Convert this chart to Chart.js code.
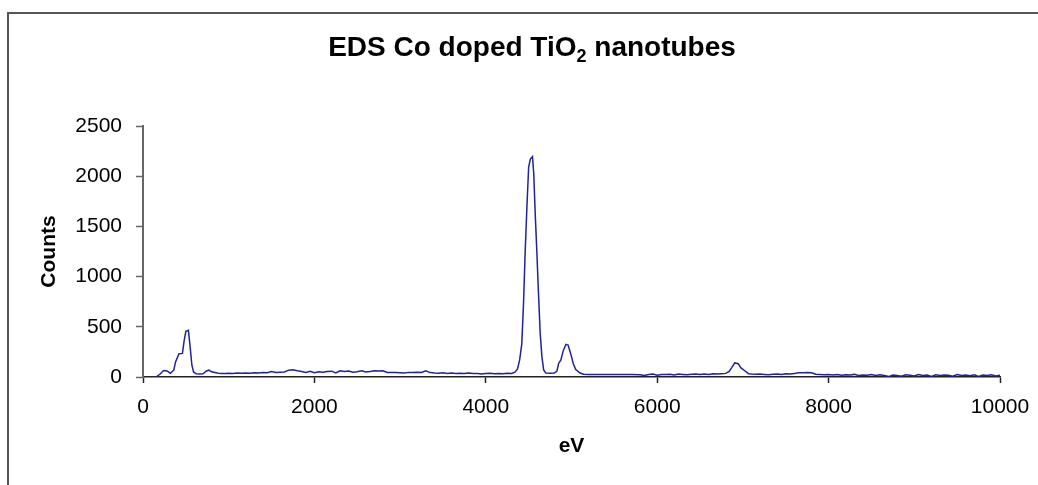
<!DOCTYPE html>
<html>
<head>
<meta charset="utf-8">
<script src="https://cdn.jsdelivr.net/npm/chart.js@4.4.1/dist/chart.umd.min.js"></script>
<style>
  html, body { margin: 0; padding: 0; background: #fff; overflow: hidden; }
  #wrap { position: relative; width: 1038px; height: 485px; overflow: hidden; }
  #frame {
    position: absolute; left: 7px; top: 12px; width: 1100px; height: 600px;
    border: 2px solid #555; pointer-events: none;
  }
  #title {
    position: absolute; left: 0; top: 33px; width: 1064px; text-align: center;
    font: bold 28px "Liberation Sans", Arial, sans-serif; line-height: 28px; color: #000;
  }
  #title sub { font-size: 18px; vertical-align: -6px; line-height: 0; }
  canvas { position: absolute; left: 0; top: 0; }
</style>
</head>
<body>
<div id="wrap">
  <canvas id="edsChart" width="1042" height="485"></canvas>
  <div id="frame"></div>
  <div id="title">EDS Co doped TiO<sub>2</sub> nanotubes</div>
</div>
<script>
// spectrum: energy (eV) and counts
const energy = [
  160, 200, 240, 280, 320, 360, 380, 420, 460, 480, 500, 530, 550, 570, 590, 620, 660, 700, 740, 770,
  800, 840, 880, 920, 960, 1000, 1050, 1100, 1150, 1200, 1250, 1300, 1350, 1400, 1450, 1500, 1550, 1600, 1650, 1700,
  1750, 1800, 1850, 1900, 1950, 2000, 2050, 2100, 2150, 2200, 2250, 2300, 2350, 2400, 2450, 2500, 2550, 2600, 2650, 2700,
  2750, 2800, 2850, 2900, 2950, 3000, 3050, 3100, 3150, 3200, 3250, 3300, 3350, 3400, 3450, 3500, 3550, 3600, 3650, 3700,
  3750, 3800, 3850, 3900, 3950, 4000, 4050, 4100, 4150, 4200, 4250, 4300, 4340, 4370, 4395, 4420, 4440, 4460, 4480, 4500,
  4520, 4545, 4560, 4575, 4595, 4615, 4635, 4655, 4675, 4700, 4750, 4800, 4830, 4850, 4875, 4905, 4935, 4960, 4990, 5020,
  5050, 5100, 5140, 5200, 5300, 5400, 5500, 5600, 5700, 5800, 5850, 5900, 5950, 6000, 6050, 6100, 6150, 6200, 6250, 6300,
  6350, 6400, 6450, 6500, 6550, 6600, 6650, 6700, 6750, 6800, 6840, 6870, 6905, 6945, 6975, 7025, 7065, 7100, 7150, 7200,
  7250, 7300, 7350, 7400, 7450, 7500, 7550, 7600, 7650, 7700, 7750, 7800, 7850, 7900, 7950, 8000, 8050, 8100, 8150, 8200,
  8250, 8300, 8350, 8400, 8450, 8500, 8550, 8600, 8650, 8700, 8750, 8800, 8850, 8900, 8950, 9000, 9050, 9100, 9150, 9200,
  9250, 9300, 9350, 9400, 9450, 9500, 9550, 9600, 9650, 9700, 9750, 9800, 9850, 9900, 9950, 10000
];
const counts = [
  5, 30, 65, 60, 38, 70, 150, 232, 235, 360, 455, 465, 300, 120, 50, 32, 30, 32, 60, 68,
  52, 45, 38, 36, 35, 38, 36, 40, 37, 40, 38, 42, 40, 45, 42, 55, 45, 48, 50, 68,
  72, 62, 55, 45, 58, 42, 52, 48, 55, 58, 40, 62, 55, 60, 48, 52, 62, 50, 55, 62,
  60, 62, 45, 46, 44, 42, 40, 46, 44, 48, 45, 62, 44, 40, 38, 42, 36, 40, 34, 38,
  34, 40, 35, 36, 30, 35, 38, 33, 36, 32, 38, 36, 48, 80, 170, 330, 730, 1260, 1700, 2090,
  2170, 2195, 2020, 1660, 1260, 830, 430, 200, 70, 40, 38, 40, 60, 135, 168, 265, 325, 318, 235, 135,
  75, 40, 28, 25, 26, 24, 25, 24, 25, 22, 14, 24, 30, 18, 26, 24, 28, 20, 30, 26,
  22, 28, 30, 24, 30, 26, 32, 30, 33, 36, 55, 93, 140, 133, 93, 60, 33, 30, 28, 30,
  26, 22, 28, 30, 24, 32, 30, 36, 43, 42, 44, 42, 28, 25, 22, 25, 20, 24, 18, 22,
  20, 26, 14, 20, 18, 24, 16, 22, 14, 4, 20, 16, 8, 22, 18, 10, 24, 16, 20, 6,
  22, 14, 20, 18, 8, 24, 16, 20, 12, 22, 6, 20, 14, 22, 10, 18
];

const xTicks = [0, 2000, 4000, 6000, 8000, 10000];
const yTicks = [0, 500, 1000, 1500, 2000, 2500];

const points = energy.map((e, i) => ({ x: e, y: counts[i] }));

const tickFont = { family: "'Liberation Sans', Arial, sans-serif", size: 21 };
const titleFont = { family: "'Liberation Sans', Arial, sans-serif", size: 21, weight: "bold" };

const ctx = document.getElementById("edsChart").getContext("2d");
new Chart(ctx, {
  type: "line",
  data: {
    datasets: [{
      label: "EDS",
      data: points,
      borderColor: "#22229a",
      borderWidth: 1.5,
      pointRadius: 0,
      fill: false,
      tension: 0,
    }],
  },
  options: {
    responsive: false,
    animation: false,
    layout: { padding: { top: 126, right: 42, left: 0, bottom: 0 } },
    plugins: {
      legend: { display: false },
      tooltip: { enabled: false },
    },
    scales: {
      x: {
        type: "linear",
        min: 0,
        max: 10000,
        afterBuildTicks: (scale) => { scale.ticks = xTicks.map(v => ({ value: v })); },
        afterFit: (scale) => { scale.height = 108; },
        ticks: { color: "#000", font: tickFont, padding: 12, maxRotation: 0, callback: (v) => String(v) },
        grid: { drawOnChartArea: false, drawTicks: true, tickLength: 6, color: "#222", tickWidth: 1.5 },
        border: { display: true, color: "#222", width: 1.5 },
        title: { display: true, text: "eV", color: "#000", font: titleFont, padding: { top: 0, bottom: 26 } },
      },
      y: {
        type: "linear",
        min: 0,
        max: 2500,
        afterBuildTicks: (scale) => { scale.ticks = yTicks.map(v => ({ value: v })); },
        afterFit: (scale) => { scale.width = 143; },
        ticks: { color: "#000", font: tickFont, padding: 14, callback: (v) => String(v) },
        grid: { drawOnChartArea: false, drawTicks: true, tickLength: 7, color: "#666", tickWidth: 1.5 },
        border: { display: true, color: "#666", width: 2 },
        title: { display: true, text: "Counts", color: "#000", font: titleFont, padding: { top: 37, bottom: 0 } },
      },
    },
  },
});
</script>
</body>
</html>
